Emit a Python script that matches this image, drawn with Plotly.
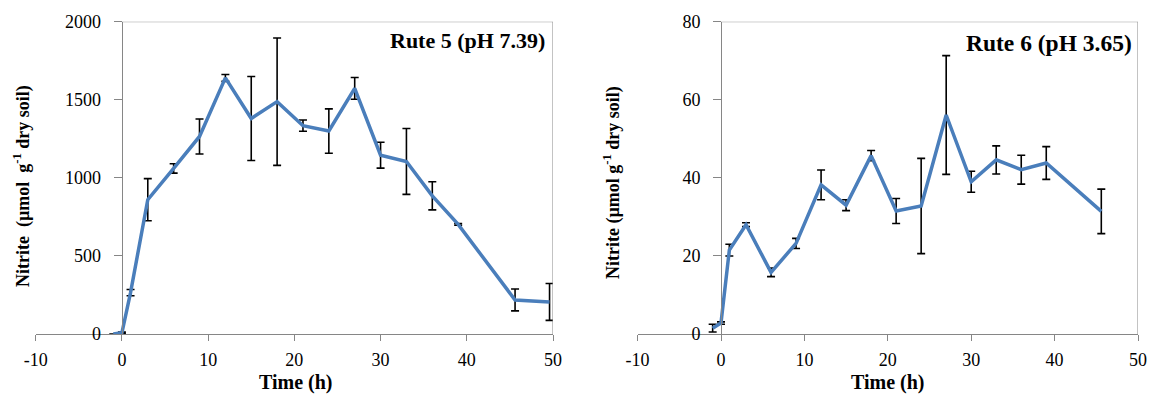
import plotly.graph_objects as go

# ---- data ----
left_time = [-1, 0, 1, 3, 6, 9, 12, 15, 18, 21, 24, 27, 30, 33, 36, 39, 45.6, 49.6]
left_nitrite = [0, 8, 265, 860, 1060, 1265, 1640, 1380, 1488, 1334, 1300, 1573, 1145, 1105, 885, 702, 218, 205]
left_err = [0, 4, 20, 135, 30, 112, 22, 269, 408, 36, 142, 70, 83, 211, 90, 6, 70, 118]

right_time = [-1, 0, 1, 3, 6, 9, 12, 15, 18, 21, 24, 27, 30, 33, 36, 39, 45.6]
right_nitrite = [1.5, 2.8, 21.5, 28, 15.8, 23.2, 38.2, 33, 45.7, 31.5, 32.8, 56.1, 39, 44.6, 42.1, 43.8, 31.4]
right_err = [1, 0.3, 1.5, 0.5, 1.1, 1.3, 3.8, 1.4, 1.3, 3.2, 12.2, 15.2, 2.7, 3.6, 3.7, 4.2, 5.7]

x_ticks = [-10, 0, 10, 20, 30, 40, 50]
x_tick_labels = ["-10", "0", "10", "20", "30", "40", "50"]
left_y_ticks = [0, 500, 1000, 1500, 2000]
right_y_ticks = [0, 20, 40, 60, 80]

left_title = "Rute 5 (pH 7.39)"
right_title = "Rute 6 (pH 3.65)"
left_y_title = "Nitrite\u00a0 (µmol\u00a0 g<sup>-1</sup> dry soil)"
right_y_title = "Nitrite (µmol g<sup>-1</sup> dry soil)"
x_title = "Time (h)"

W, H = 1169, 396
FONT = "Liberation Serif"
LINE_BLUE = "#4A7EBB"
AXIS_GRAY = "#868686"

fig = go.Figure()

fig.add_trace(go.Scatter(
    x=left_time, y=left_nitrite, mode="lines",
    line=dict(color=LINE_BLUE, width=3.5),
    error_y=dict(type="data", array=left_err, color="black", thickness=1.6, width=4),
    xaxis="x", yaxis="y", showlegend=False))
fig.add_trace(go.Scatter(
    x=right_time, y=right_nitrite, mode="lines",
    line=dict(color=LINE_BLUE, width=3.5),
    error_y=dict(type="data", array=right_err, color="black", thickness=1.6, width=4),
    xaxis="x2", yaxis="y2", showlegend=False))

ydom = [62 / H, 374.3 / H]
tickfont = dict(family=FONT, size=18, color="black")

common_x = dict(range=[-10, 50], tickvals=x_ticks, ticktext=x_tick_labels, showline=True,
                linecolor=AXIS_GRAY, linewidth=1, ticks="outside", ticklen=6,
                tickcolor=AXIS_GRAY, showgrid=False, zeroline=False, tickfont=tickfont,
                ticklabelstandoff=3, fixedrange=True, automargin=False)
common_y = dict(showline=True, linecolor=AXIS_GRAY, linewidth=1, ticks="outside",
                ticklen=8, tickcolor=AXIS_GRAY, showgrid=False, zeroline=False,
                tickfont=tickfont, domain=ydom, anchor="free", ticklabelstandoff=9,
                fixedrange=True, automargin=False)

fig.update_layout(
    width=W, height=H,
    margin=dict(l=0, r=0, t=0, b=0, pad=0, autoexpand=False),
    paper_bgcolor="white", plot_bgcolor="white",
    xaxis=dict(domain=[35.7 / W, 553 / W], anchor="y", **common_x),
    yaxis=dict(range=[0, 2000], tickvals=left_y_ticks, position=121.7 / W, **common_y),
    xaxis2=dict(domain=[637.6 / W, 1138 / W], anchor="y2", **common_x),
    yaxis2=dict(range=[0, 80], tickvals=right_y_ticks, position=721 / W, **common_y),
)

# plot-area border (top and right)
for xr, yr, ymax in [("x", "y", 2000), ("x2", "y2", 80)]:
    fig.add_shape(type="line", xref=xr, yref=yr, x0=0, x1=50, y0=ymax, y1=ymax,
                  line=dict(color=AXIS_GRAY, width=1))
    fig.add_shape(type="line", xref=xr, yref=yr, x0=50, x1=50, y0=0, y1=ymax,
                  line=dict(color=AXIS_GRAY, width=1))

bold = dict(family=FONT, color="black")
ann = [
    dict(text=f"<b>{left_title}</b>", x=546.7 / W, y=(H - 41) / H, xanchor="right",
         yanchor="middle", font=dict(size=22, **bold)),
    dict(text=f"<b>{right_title}</b>", x=1134 / W, y=(H - 43) / H, xanchor="right",
         yanchor="middle", font=dict(size=23.5, **bold)),
    dict(text=f"<b>{x_title}</b>", x=296 / W, y=(H - 382) / H, xanchor="center",
         yanchor="middle", font=dict(size=20, **bold)),
    dict(text=f"<b>{x_title}</b>", x=888 / W, y=(H - 382) / H, xanchor="center",
         yanchor="middle", font=dict(size=20, **bold)),
    dict(text=f"<b>{left_y_title}</b>", x=22 / W, y=(H - 186) / H, xanchor="center",
         yanchor="middle", textangle=-90, font=dict(size=18, **bold)),
    dict(text=f"<b>{right_y_title}</b>", x=612 / W, y=(H - 183) / H, xanchor="center",
         yanchor="middle", textangle=-90, font=dict(size=18, **bold)),
]
for a in ann:
    fig.add_annotation(xref="paper", yref="paper", showarrow=False, **a)

fig.write_html("out.html")
